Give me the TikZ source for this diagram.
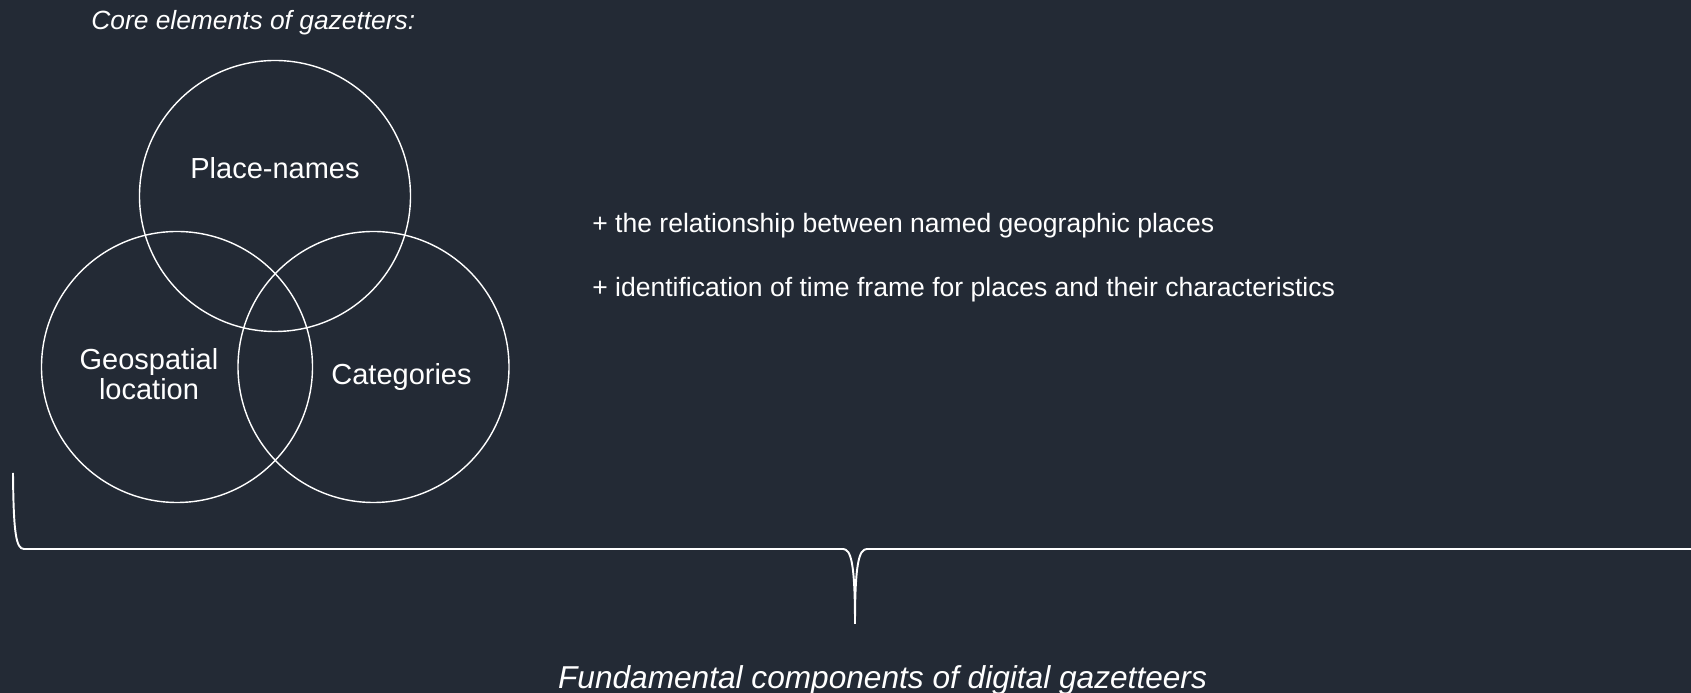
\documentclass[tikz,border=0pt]{standalone}
\usepackage{fontspec}
\setmainfont{Liberation Sans}
\definecolor{slide}{HTML}{232A35}

\begin{document}
\begin{tikzpicture}[
		ring/.style={draw=white, line width=0.8pt},
		label/.style={text=white, inner sep=0pt, font=\fontsize{16.5}{17}\selectfont},
		note/.style={text=white, inner sep=0pt, anchor=base west, font=\fontsize{15.1}{16}\selectfont},
		brace/.style={draw=white, line width=1.1pt}
	]
			% background, fixes the size of the page
			\useasboundingbox (0, 0) rectangle (33.82, 13.86);
			\fill[slide] (0, 0) rectangle (33.82, 13.86);

			\node[text=white, inner sep=0pt, anchor=base west, font=\fontsize{15}{17}\selectfont\itshape] (core) at (1.82, 13.26) {Core elements of gazetters:};

			% the three sets
			\foreach \u/\v in {5.50/9.94, 3.54/6.52, 7.47/6.52}
				{
					\draw[ring] (\u, \v) circle[radius=2.71];
				}
			\node[label, anchor=base] (names) at (5.50, 10.28) {Place-names};
			\node[label, align=center] (geo) at (2.98, 6.38) {Geospatial\\location};
			\node[label, anchor=base] (cat) at (8.03, 6.16) {Categories};

			\node[note] (rel) at (11.84, 9.20) {+ the relationship between named geographic places};
			\node[note] (time) at (11.84, 7.93) {+ identification of time frame for places and their characteristics};

			% curly brace under everything
			\draw[brace] (0.26, 4.40) .. controls (0.27, 3.20) and (0.32, 2.88) .. (0.48, 2.88) -- (16.86, 2.88)
				.. controls (17.02, 2.88) and (17.10, 2.60) .. (17.10, 1.38);
			\draw[brace] (17.10, 1.38) .. controls (17.10, 2.60) and (17.18, 2.88) .. (17.34, 2.88) -- (33.82, 2.88);

			\node[text=white, inner sep=0pt, anchor=base, font=\fontsize{18}{20}\selectfont\itshape] (title) at (17.65, 0.09) {Fundamental components of digital gazetteers};
		\end{tikzpicture}
\end{document}
